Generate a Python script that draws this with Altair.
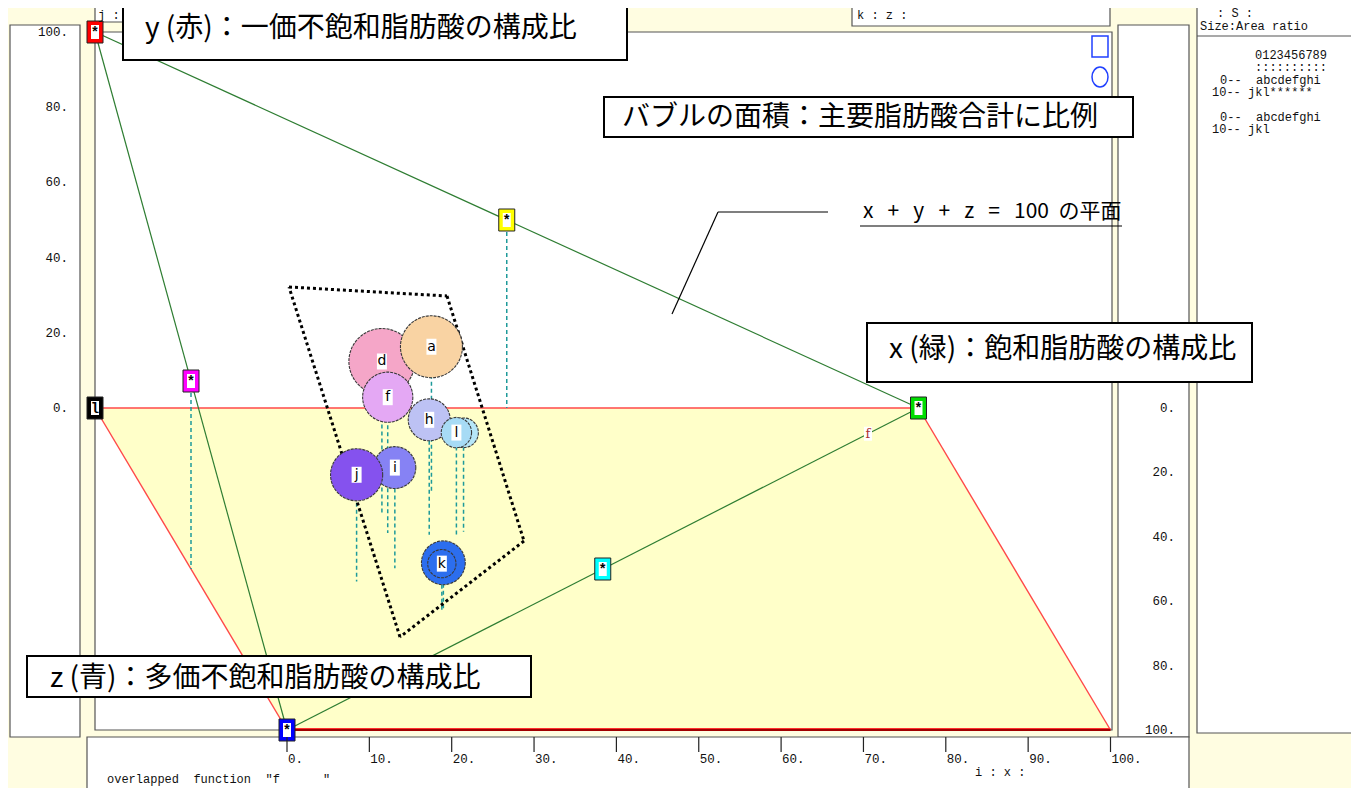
import math
import altair as alt
import pandas as pd

# ---------------- values ----------------
# bubbles (draw order back -> front); x = saturated, y = mono-unsaturated, z = poly-unsaturated (%)
sample_labels = ["d", "a", "f", "h", "l", "l", "i", "j", "k", "k"]
sat_pct = [27.1, 34.7, 26.5, 31.4, 35.8, 34.7, 24.8, 19.2, 27.8, 27.5]
mono_pct = [40.8, 38.9, 36.1, 30.6, 26.3, 27.2, 26.8, 28.4, 12.1, 12.3]
poly_pct = [33.2, 26.4, 38.8, 39.4, 38.4, 39.4, 49.8, 53.9, 62.2, 62.7]
major_total = [10.9, 9.6, 6.3, 4.4, 2.2, 2.3, 4.4, 6.8, 4.8, 2.0]
label_shown = [1, 1, 1, 1, 0, 1, 1, 1, 0, 1]

# reference points of the 3-D frame (vertices, origin, mid-points of the plane's edges)
ref_names = ["Y", "X", "Z", "O", "XY", "YZ", "XZ"]
ref_x = [0, 100, 0, 0, 50, 0, 50]
ref_y = [100, 0, 0, 0, 50, 50, 0]
ref_z = [0, 0, 100, 0, 0, 50, 50]
ref_text = ["*", "*", "*", "l", "*", "*", "*"]

y_ticks = [0, 20, 40, 60, 80, 100]
z_ticks = [0, 20, 40, 60, 80, 100]
x_ticks = [0, 10, 20, 30, 40, 50, 60, 70, 80, 90, 100]

overlap_label = "f"
overlap_xyz = [92.0, 0.0, 8.0]

# ---------------- styles ----------------
bubble_fills = ["#F5A6C8", "#F9D3A3", "#E4A8F4", "#BDC2F4", "#B6E6F8", "#A7DBF5",
                "#8682F4", "#8552EE", "#2C6EEE", "#2C6EEE"]
ref_fills = ["#FF0000", "#00DD00", "#0000FF", "#000000", "#FFFF00", "#FF00FF", "#00FFFF"]
BG = "#FFFDE1"
FLOOR = "#FFFFC9"
UI_FONT = "Liberation Mono"
JP_FONT = "Noto Sans CJK JP"
NB = "\u00a0"

# ---------------- projection (oblique view of the x-y-z frame) ----------------
ORIGIN = (95.0, 408.0)
UX = (8.235, 0.0)
UY = (0.0, -3.76)
UZ = (1.92, 3.22)


def proj(x, y, z):
    return (ORIGIN[0] + UX[0] * x + UY[0] * y + UZ[0] * z,
            ORIGIN[1] + UX[1] * x + UY[1] * y + UZ[1] * z)


XS = alt.Scale(domain=[8, 1351], nice=False, zero=False)
YS = alt.Scale(domain=[8, 788], nice=False, zero=False, reverse=True)


def X(f):
    return alt.X(f"{f}:Q", scale=XS, axis=None)


def Y(f):
    return alt.Y(f"{f}:Q", scale=YS, axis=None)


def rects(rows, **mk):
    df = pd.DataFrame(rows, columns=["x0", "y0", "x1", "y1"])
    return alt.Chart(df).mark_rect(**mk).encode(
        x=X("x0"), x2=alt.X2("x1"), y=Y("y0"), y2=alt.Y2("y1"))


def segs(rows, **mk):
    df = pd.DataFrame(rows, columns=["x0", "y0", "x1", "y1"])
    return alt.Chart(df).mark_rule(**mk).encode(
        x=X("x0"), x2=alt.X2("x1"), y=Y("y0"), y2=alt.Y2("y1"))


def texts(rows, **mk):
    df = pd.DataFrame(rows, columns=["x", "y", "t"])
    return alt.Chart(df).mark_text(**mk).encode(x=X("x"), y=Y("y"), text="t:N")


layers = []

# ---------------- UI panels ----------------
panel_style = dict(fill="white", stroke="#555555", strokeWidth=1.2)
layers.append(rects([
    (10, 25, 80, 737), (1118, 25, 1189, 737), (1197, 3, 1354, 733),
    (87, 737, 1189, 793), (95, 3, 126, 22), (852, 3, 1110, 26),
    (95, 32, 1112, 730)], **panel_style))
layers.append(segs([(1197, 36, 1354, 36)], color="#555555", strokeWidth=1.2))

# ---------------- floor (x-z plane, y = 0) ----------------
corner = {k: proj(*v) for k, v in
          {"O": (0, 0, 0), "X": (100, 0, 0), "XZ": (100, 0, 100), "Z": (0, 0, 100)}.items()}
floor_df = pd.DataFrame({
    "py": [corner["O"][1], corner["Z"][1]],
    "xl": [corner["O"][0], corner["Z"][0]],
    "xr": [corner["X"][0], corner["XZ"][0]]})
layers.append(alt.Chart(floor_df).mark_area(orient="horizontal", color=FLOOR, opacity=1).encode(
    y=Y("py"), x=X("xl"), x2=alt.X2("xr")))
layers.append(segs([corner["O"] + corner["X"], corner["X"] + corner["XZ"],
                    corner["O"] + corner["Z"]], color="#FF4848", strokeWidth=1.4))
layers.append(segs([corner["Z"] + corner["XZ"]], color="#A00000", strokeWidth=2))
layers.append(segs([(corner["Z"][0], corner["Z"][1] - 1.5, corner["XZ"][0], corner["XZ"][1] - 1.5)],
                   color="#FF3030", strokeWidth=1))

# ---------------- plane x + y + z = 100 (triangle) ----------------
P = {n: proj(a, b, c) for n, a, b, c in zip(ref_names, ref_x, ref_y, ref_z)}
layers.append(segs([P["Y"] + P["X"], P["Y"] + P["Z"], P["Z"] + P["X"]],
                   color="#2E7D32", strokeWidth=1.2))

# ---------------- drop lines to the floor ----------------
drops = []
for n, a, b, c in zip(ref_names, ref_x, ref_y, ref_z):
    if n in ("XY", "YZ"):
        p0 = proj(a, b, c)
        p1 = proj(a, 0, c)
        drops.append((p0[0], p0[1] + 12, p1[0], p1[1]))
for a, b, c in zip(sat_pct, mono_pct, poly_pct):
    p0 = proj(a, b, c)
    p1 = proj(a, 0, c)
    drops.append(p0 + p1)
layers.append(segs(drops, color="#1E9A9A", strokeWidth=1.5, strokeDash=[4, 3]))

# ---------------- grouping outline (annotation) ----------------
group_outline = [(289, 287), (447, 296), (524, 541), (400, 637)]
outline_rows = [group_outline[i] + group_outline[(i + 1) % 4] for i in range(4)]
layers.append(segs(outline_rows, color="black", strokeWidth=3, strokeDash=[3, 3]))

# ---------------- bubbles (area proportional to total) ----------------
bub = []
for i, (lab, a, b, c, t, f, s) in enumerate(zip(sample_labels, sat_pct, mono_pct, poly_pct,
                                                   major_total, bubble_fills, label_shown)):
    px, py = proj(a, b, c)
    bub.append(dict(label=lab, px=px, py=py, total=t, fill=f, ord=i, shown=s))
bub_df = pd.DataFrame(bub)
layers.append(alt.Chart(bub_df).mark_circle(opacity=1, stroke="#3A3A3A", strokeWidth=1.1,
                                            strokeDash=[3, 1]).encode(
    x=X("px"), y=Y("py"),
    size=alt.Size("total:Q", scale=alt.Scale(domain=[0, 10], range=[0, 4000]), legend=None),
    fill=alt.Fill("fill:N", scale=None),
    order=alt.Order("ord:Q")))
lab_df = bub_df[bub_df["shown"] == 1].copy()
lab_df["x0"] = lab_df["px"] - 5
lab_df["x1"] = lab_df["px"] + 5
lab_df["y0"] = lab_df["py"] - 8
lab_df["y1"] = lab_df["py"] + 8
layers.append(alt.Chart(lab_df).mark_rect(fill="white").encode(
    x=X("x0"), x2=alt.X2("x1"), y=Y("y0"), y2=alt.Y2("y1")))
layers.append(alt.Chart(lab_df).mark_text(font="DejaVu Sans", fontSize=14, color="black").encode(
    x=X("px"), y=Y("py"), text="label:N"))

# overlap indicator on the z-x edge
ox, oy = proj(*overlap_xyz)
layers.append(rects([(ox - 4, oy - 7, ox + 4, oy + 7)], fill="white"))
layers.append(texts([(ox, oy, overlap_label)], font="DejaVu Serif", fontSize=13, color="#B03030"))

# ---------------- reference markers ----------------
mk_outer, mk_inner = [], []
for n in ref_names:
    cx, cy = P[n]
    mk_outer.append((cx - 8, cy - 11, cx + 8, cy + 11))
    mk_inner.append((cx - 4, cy - 7, cx + 4, cy + 7))
outer_df = pd.DataFrame(mk_outer, columns=["x0", "y0", "x1", "y1"])
outer_df["fill"] = ref_fills
layers.append(alt.Chart(outer_df).mark_rect(stroke="#222222", strokeWidth=1).encode(
    x=X("x0"), x2=alt.X2("x1"), y=Y("y0"), y2=alt.Y2("y1"), fill=alt.Fill("fill:N", scale=None)))
layers.append(rects(mk_inner, fill="white"))
layers.append(texts([(P[n][0], P[n][1] + 1, t) for n, t in zip(ref_names, ref_text)],
                    font=UI_FONT, fontSize=14, fontWeight="bold", color="black"))

# ---------------- leader line + plane label ----------------
layers.append(segs([(672, 314, 718, 212), (718, 212, 828, 212), (860, 226, 1122, 226)],
                   color="black", strokeWidth=1.2))
g3 = NB * 3
plane_label = f"x{g3}+{g3}y{g3}+{g3}z{g3}={g3}100{NB * 2}の平面"
layers.append(texts([(863, 212, plane_label)], font=JP_FONT, fontSize=21,
                    align="left", baseline="middle", color="black"))

# ---------------- text boxes ----------------
boxes = [(123, 3, 627, 60), (604, 97, 1133, 137), (867, 323, 1252, 382), (27, 656, 531, 697)]
box_texts = [(145, 29, "y (赤)：一価不飽和脂肪酸の構成比"),
             (622, 118, "バブルの面積：主要脂肪酸合計に比例"),
             (889, 350, "x (緑)：飽和脂肪酸の構成比"),
             (50, 679, "z (青)：多価不飽和脂肪酸の構成比")]
layers.append(rects(boxes, fill="white", stroke="black", strokeWidth=2))
layers.append(texts(box_texts, font=JP_FONT, fontSize=28, align="left", baseline="middle",
                    color="black"))

# ---------------- axes (tick labels) ----------------
ui = dict(font=UI_FONT, fontSize=12.5, color="#111111", baseline="middle")
layers.append(texts([(68, proj(0, v, 0)[1], f"{v}.") for v in y_ticks], align="right", **ui))
layers.append(texts([(1175, proj(0, 0, v)[1], f"{v}.") for v in z_ticks], align="right", **ui))
layers.append(segs([(proj(v, 0, 100)[0], 737, proj(v, 0, 100)[0], 752) for v in x_ticks],
                   color="#222222", strokeWidth=1.2))
layers.append(texts([(proj(v, 0, 100)[0] + 1, 759, f"{v}.") for v in x_ticks], align="left", **ui))

# ---------------- UI captions ----------------
ui_small = dict(font=UI_FONT, fontSize=12, color="#111111", baseline="middle")
layers.append(texts([
    (98, 15, "j" + NB + ":"), (857, 15, "k" + NB + ":" + NB + "z" + NB + ":"),
    (1217, 13, ":" + NB + "S" + NB + ":"), (1200, 26, "Size:Area" + NB + "ratio"),
    (1255, 55, "0123456789"), (1255, 67, "::::::::::"),
    (1220, 80, "0--" + NB * 2 + "abcdefghi"), (1212, 92, "10--" + NB + "jkl******"),
    (1220, 117, "0--" + NB * 2 + "abcdefghi"), (1212, 129, "10--" + NB + "jkl"),
    (107, 779, "overlapped" + NB * 2 + "function" + NB * 2 + "″f" + NB * 6 + "″"),
    (975, 772, "i" + NB + ":" + NB + "x" + NB + ":")],
    align="left", **ui_small))

# icons top-right of the frame
layers.append(rects([(1092, 36, 1108, 57)], fill="white", stroke="#2040FF", strokeWidth=1.5))
icon_df = pd.DataFrame({"x": [1100], "y": [77]})
layers.append(alt.Chart(icon_df).mark_point(
    shape="M-0.8,0 A0.8,1 0 1,0 0.8,0 A0.8,1 0 1,0 -0.8,0 Z", size=400, filled=False,
    stroke="#2040FF", strokeWidth=1.5, opacity=1).encode(x=X("x"), y=Y("y")))

chart = alt.layer(*layers).properties(
    width=1343, height=780, padding=0, autosize=alt.AutoSizeParams(type="none")
).configure(background=BG).configure_view(strokeWidth=0)

chart.save("out.html", embed_options={"renderer": "svg", "actions": False})
